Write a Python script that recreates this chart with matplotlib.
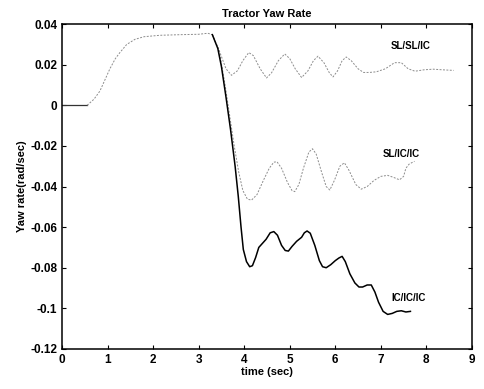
import numpy as np
import matplotlib
matplotlib.use("Agg")
import matplotlib.pyplot as plt

# shared response before the three configurations split (t, yaw rate)
t_common = [0, 0.55, 0.7, 0.83, 0.95, 1.05, 1.17, 1.27, 1.42, 1.6, 1.8, 2.15, 2.6, 3.0, 3.2, 3.3]
r_common = [0, 0, 0.003, 0.007, 0.013, 0.018, 0.023, 0.026, 0.030, 0.0325, 0.0338, 0.0345,
            0.0348, 0.035, 0.0355, 0.0348]

t_slslic = [3.3, 3.45, 3.6, 3.72, 3.85, 3.97, 4.1, 4.2, 4.35, 4.49, 4.6, 4.75, 4.89, 5.0, 5.12,
            5.26, 5.4, 5.52, 5.62, 5.75, 5.87, 5.95, 6.05, 6.15, 6.24, 6.35, 6.5, 6.62, 6.75,
            6.9, 7.1, 7.3, 7.45, 7.6, 7.75, 7.95, 8.15, 8.35, 8.6]
r_slslic = [0.0348, 0.027, 0.018, 0.0148, 0.017, 0.022, 0.026, 0.0245, 0.018, 0.0135, 0.016,
            0.022, 0.0253, 0.023, 0.018, 0.0137, 0.017, 0.022, 0.0242, 0.021, 0.016, 0.014,
            0.017, 0.022, 0.0238, 0.022, 0.018, 0.0162, 0.0162, 0.0165, 0.018, 0.021, 0.021,
            0.018, 0.0168, 0.0175, 0.0178, 0.0175, 0.0172]

t_slicic = [3.3, 3.45, 3.58, 3.68, 3.78, 3.88, 3.97, 4.07, 4.16, 4.28, 4.42, 4.55, 4.65, 4.72,
            4.82, 4.95, 5.05, 5.11, 5.2, 5.3, 5.42, 5.5, 5.58, 5.7, 5.8, 5.88, 5.98, 6.1, 6.2,
            6.3, 6.45, 6.57, 6.7, 6.85, 7.0, 7.15, 7.28, 7.41, 7.5, 7.55, 7.62, 7.7, 7.74]
r_slicic = [0.0348, 0.027, 0.010, -0.005, -0.02, -0.033, -0.042, -0.0462, -0.0467, -0.044,
            -0.037, -0.031, -0.028, -0.0278, -0.031, -0.038, -0.042, -0.0425, -0.039, -0.031,
            -0.023, -0.0214, -0.024, -0.033, -0.040, -0.0417, -0.037, -0.030, -0.0283, -0.032,
            -0.039, -0.0413, -0.040, -0.037, -0.035, -0.0345, -0.0355, -0.0367, -0.035, -0.031,
            -0.029, -0.028, -0.0276]

t_icicic = [3.3, 3.42, 3.5, 3.6, 3.7, 3.8, 3.87, 3.93, 3.98, 4.05, 4.12, 4.18, 4.25,
            4.32, 4.4, 4.48, 4.57, 4.65, 4.73, 4.82, 4.9, 4.97, 5.05, 5.15, 5.26, 5.32, 5.38,
            5.45, 5.55, 5.65, 5.72, 5.8, 5.9, 6.0, 6.08, 6.15, 6.22, 6.32, 6.43, 6.52, 6.6, 6.7,
            6.79, 6.87, 6.95, 7.05, 7.15, 7.25, 7.35, 7.45, 7.55, 7.65]
r_icicic = [0.0348, 0.028, 0.019, 0.004, -0.012, -0.03, -0.045, -0.06, -0.071, -0.077,
            -0.0795, -0.079, -0.075, -0.070, -0.068, -0.066, -0.0628, -0.0622, -0.064, -0.069,
            -0.0715, -0.0718, -0.0695, -0.067, -0.065, -0.0628, -0.0619, -0.063, -0.069,
            -0.0765, -0.0795, -0.080, -0.0785, -0.0765, -0.0752, -0.0744, -0.077, -0.083,
            -0.0875, -0.0895, -0.0895, -0.0885, -0.0885, -0.092, -0.097, -0.1015, -0.103,
            -0.1025, -0.1015, -0.1012, -0.1018, -0.1015]

y_ticks = [0.04, 0.02, 0, -0.02, -0.04, -0.06, -0.08, -0.1, -0.12]
y_tick_labels = ["0.04", "0.02", "0", "-0.02", "-0.04", "-0.06", "-0.08", "-0.1", "-0.12"]

plt.rcParams["font.family"] = ["Liberation Sans", "DejaVu Sans"]

fig = plt.figure(figsize=(4.85, 3.89), dpi=100)
ax = fig.add_axes([0.128, 0.103, 0.845, 0.835])

dotted = dict(color="0.55", linestyle=(0, (2, 1.5)), linewidth=0.7)
ax.plot(t_common[:2], r_common[:2], color="0.2", linewidth=0.9)
ax.plot(t_common[1:], r_common[1:], **dotted)
ax.plot(t_slslic, r_slslic, **dotted)
ax.plot(t_slicic, r_slicic, **dotted)
ax.plot(t_icicic, r_icicic, color="black", linewidth=1.1)

lbl = dict(fontsize=7, fontweight="bold", ha="center", va="center")
ax.text(7.65, 0.029, "SL/SL/IC", **lbl)
ax.text(7.45, -0.024, "SL/IC/IC", **lbl)
ax.text(7.6, -0.095, "IC/IC/IC", **lbl)

ax.set_xlim(0, 9)
ax.set_ylim(-0.12, 0.04)
ax.set_xticks(range(10))
ax.set_yticks(y_ticks)
ax.set_yticklabels(y_tick_labels)
ax.tick_params(direction="in", top=True, right=True, length=3, labelsize=8.5)
for lab in ax.get_xticklabels() + ax.get_yticklabels():
    lab.set_fontweight("bold")
for s in ax.spines.values():
    s.set_linewidth(1.1)

ax.set_title("Tractor Yaw Rate", fontsize=8, fontweight="bold", pad=5)
ax.set_xlabel("time (sec)", fontsize=8, fontweight="bold", labelpad=1)
ax.set_ylabel("Yaw rate(rad/sec)", fontsize=8, fontweight="bold", labelpad=2)

fig.savefig("out.png", dpi=100)
